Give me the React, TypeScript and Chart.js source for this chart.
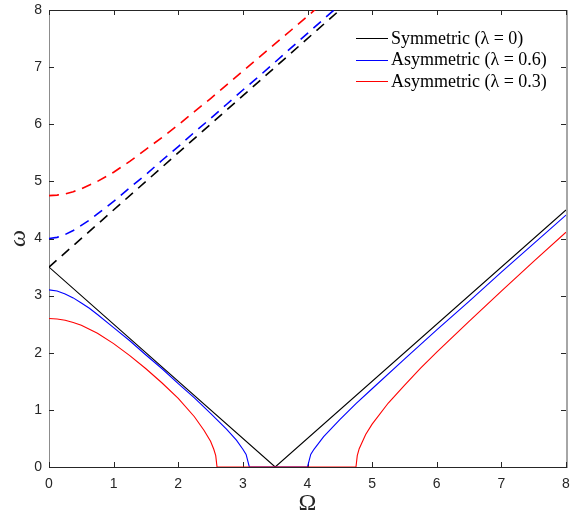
import React, { useEffect, useRef } from "react";
import { Chart, registerables } from "chart.js";

Chart.register(...registerables);

// Tick values
const xTickValues = [0, 1, 2, 3, 4, 5, 6, 7, 8];
const yTickValues = [0, 1, 2, 3, 4, 5, 6, 7, 8];

// Legend labels
const legendLabels = ["Symmetric (\u03bb = 0)", "Asymmetric (\u03bb = 0.6)", "Asymmetric (\u03bb = 0.3)"];

// Symmetric (λ = 0)
const symLowerX = [0, 3.5, 8];
const symLowerY = [3.5, 0, 4.5];
const symUpperX = [0, 4.5];
const symUpperY = [3.5, 8];

// Asymmetric (λ = 0.6)
const blueLowerX = [0, 0.125, 0.25, 0.375, 0.5, 0.625, 0.75, 1, 1.25, 1.5, 1.75, 2, 2.25, 2.5, 2.75, 2.9, 3, 3.05, 3.1, 4, 4.05, 4.1, 4.25, 4.5, 4.75, 5, 5.5, 6, 6.5, 7, 7.5, 8];
const blueLowerY = [3.1, 3.08, 3.03, 2.96, 2.87, 2.78, 2.67, 2.44, 2.21, 1.96, 1.72, 1.46, 1.21, 0.94, 0.66, 0.47, 0.31, 0.22, 0, 0, 0.22, 0.31, 0.53, 0.83, 1.11, 1.37, 1.89, 2.4, 2.9, 3.41, 3.91, 4.41];
const blueUpperX = [0, 0.125, 0.25, 0.375, 0.5, 0.625, 0.75, 1, 1.25, 1.5, 1.75, 2, 2.25, 2.5, 2.75, 3, 3.25, 3.5, 3.75, 4, 4.25, 4.5];
const blueUpperY = [4.0, 4.02, 4.07, 4.14, 4.23, 4.32, 4.43, 4.65, 4.89, 5.12, 5.37, 5.61, 5.86, 6.1, 6.35, 6.6, 6.84, 7.09, 7.34, 7.59, 7.84, 8.09];

// Asymmetric (λ = 0.3)
const redLowerX = [0, 0.125, 0.25, 0.375, 0.5, 0.75, 1, 1.25, 1.5, 1.75, 2, 2.25, 2.4, 2.5, 2.55, 2.58, 2.6, 4.75, 4.77, 4.8, 4.9, 5, 5.25, 5.5, 5.75, 6, 6.5, 7, 7.5, 8];
const redLowerY = [2.6, 2.59, 2.57, 2.53, 2.48, 2.34, 2.16, 1.95, 1.72, 1.47, 1.2, 0.88, 0.64, 0.45, 0.31, 0.2, 0, 0, 0.2, 0.32, 0.57, 0.75, 1.12, 1.43, 1.73, 2.01, 2.55, 3.08, 3.6, 4.11];
const redUpperX = [0, 0.125, 0.25, 0.375, 0.5, 0.75, 1, 1.25, 1.5, 1.75, 2, 2.25, 2.5, 2.75, 3, 3.25, 3.5, 3.75, 4, 4.25];
const redUpperY = [4.75, 4.76, 4.78, 4.82, 4.87, 5.0, 5.16, 5.35, 5.56, 5.77, 5.99, 6.22, 6.45, 6.69, 6.93, 7.17, 7.41, 7.65, 7.89, 8.14];

const legendColors = ["#000000", "#0000ff", "#ff0000"];

const pts = (xs: number[], ys: number[]) => xs.map((x, i) => ({ x, y: ys[i] }));

const framePlugin = {
  id: "framePlugin",
  beforeDatasetsDraw(chart: any) {
    const { ctx, chartArea } = chart;
    const { left, right, top, bottom } = chartArea;
    const xs = chart.scales.x;
    const ys = chart.scales.y;
    ctx.save();
    ctx.lineWidth = 1;
    // left (gray)
    ctx.strokeStyle = "#8c8c8c";
    ctx.beginPath();
    ctx.moveTo(left + 0.5, top);
    ctx.lineTo(left + 0.5, bottom);
    ctx.stroke();
    // right (gray, thicker)
    ctx.strokeStyle = "#a6a6a6";
    ctx.lineWidth = 2;
    ctx.beginPath();
    ctx.moveTo(right + 1, top);
    ctx.lineTo(right + 1, bottom + 1);
    ctx.stroke();
    // top & bottom black
    ctx.lineWidth = 1;
    ctx.strokeStyle = "#262626";
    ctx.beginPath();
    ctx.moveTo(left, top + 0.5);
    ctx.lineTo(right + 1, top + 0.5);
    ctx.moveTo(left, bottom + 0.5);
    ctx.lineTo(right + 1, bottom + 0.5);
    ctx.stroke();
    // inward ticks
    const tl = 5;
    ctx.beginPath();
    xTickValues.forEach((v) => {
      const px = Math.round(xs.getPixelForValue(v)) + 0.5;
      ctx.moveTo(px, bottom);
      ctx.lineTo(px, bottom - tl);
      ctx.moveTo(px, top);
      ctx.lineTo(px, top + tl);
    });
    yTickValues.forEach((v) => {
      const py = Math.round(ys.getPixelForValue(v)) + 0.5;
      ctx.moveTo(left, py);
      ctx.lineTo(left + tl, py);
      ctx.moveTo(right, py);
      ctx.lineTo(right - tl, py);
    });
    ctx.stroke();
    ctx.restore();
  },
  afterDraw(chart: any) {
    const { ctx, chartArea } = chart;
    ctx.save();
    // legend
    ctx.font = '18px "Liberation Serif"';
    ctx.textBaseline = "middle";
    ctx.textAlign = "left";
    const lx0 = 356;
    const lx1 = 388;
    const ly0 = 38;
    const dy = 21.5;
    legendLabels.forEach((label, i) => {
      const y = ly0 + i * dy;
      ctx.strokeStyle = legendColors[i];
      ctx.lineWidth = 1;
      ctx.beginPath();
      ctx.moveTo(lx0, Math.round(y) + 0.5);
      ctx.lineTo(lx1, Math.round(y) + 0.5);
      ctx.stroke();
      ctx.fillStyle = "#000000";
      ctx.fillText(label, lx1 + 3, y + 1);
    });
    // x title
    ctx.fillStyle = "#262626";
    ctx.font = '24px "Liberation Serif"';
    ctx.textAlign = "center";
    ctx.textBaseline = "middle";
    ctx.fillText("\u03a9", (chartArea.left + chartArea.right) / 2, 504);
    // y title
    ctx.save();
    ctx.translate(19, (chartArea.top + chartArea.bottom) / 2);
    ctx.rotate(-Math.PI / 2);
    ctx.font = 'italic 24px "Liberation Serif"';
    ctx.fillText("\u03c9", 0, 0);
    ctx.restore();
    ctx.restore();
  },
};

export default function App() {
  const ref = useRef<HTMLCanvasElement | null>(null);
  useEffect(() => {
    document.body.style.margin = "0";
    const canvas = ref.current;
    if (!canvas) return;
    const solid = (data: any, color: string, order: number) => ({
      data,
      borderColor: color,
      backgroundColor: color,
      borderWidth: 1.1,
      pointRadius: 0,
      fill: false,
      tension: 0,
      order,
    });
    const dashed = (data: any, color: string, order: number) => ({
      ...solid(data, color, order),
      borderWidth: 1.6,
      borderDash: [10, 7],
    });
    const chart = new Chart(canvas, {
      type: "line",
      data: {
        datasets: [
          solid(pts(redLowerX, redLowerY), "#ff0000", 0),
          dashed(pts(redUpperX, redUpperY), "#ff0000", 0),
          solid(pts(blueLowerX, blueLowerY), "#0000ff", 1),
          dashed(pts(blueUpperX, blueUpperY), "#0000ff", 1),
          solid(pts(symLowerX, symLowerY), "#000000", 2),
          dashed(pts(symUpperX, symUpperY), "#000000", 2),
        ] as any,
      },
      options: {
        animation: false,
        responsive: false,
        devicePixelRatio: 1,
        parsing: false as any,
        layout: { padding: { top: 10, right: 7, left: 0, bottom: 0 } },
        plugins: { legend: { display: false }, tooltip: { enabled: false } },
        scales: {
          x: {
            type: "linear",
            min: 0,
            max: 8,
            border: { display: false },
            grid: { display: false, drawTicks: false, tickLength: 0 },
            ticks: {
              stepSize: 1,
              padding: 9,
              color: "#262626",
              font: { family: "Liberation Sans", size: 14 },
              maxRotation: 0,
            },
            afterFit: (s: any) => {
              s.height = 52;
              s.paddingLeft = 0;
              s.paddingRight = 0;
            },
          },
          y: {
            type: "linear",
            min: 0,
            max: 8,
            border: { display: false },
            grid: { display: false, drawTicks: false, tickLength: 0 },
            ticks: {
              stepSize: 1,
              padding: 7,
              color: "#262626",
              font: { family: "Liberation Sans", size: 14 },
            },
            afterFit: (s: any) => {
              s.width = 49;
              s.paddingTop = 0;
              s.paddingBottom = 0;
            },
          },
        },
      },
      plugins: [framePlugin],
    });
    return () => chart.destroy();
  }, []);
  return <canvas ref={ref} width={573} height={519} style={{ display: "block", width: 573, height: 519 }} />;
}
